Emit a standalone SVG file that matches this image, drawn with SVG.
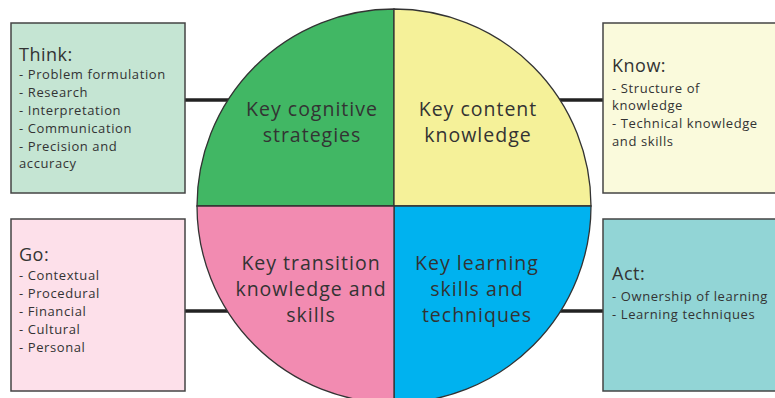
<svg xmlns="http://www.w3.org/2000/svg" width="775" height="398" viewBox="0 0 775 398">
<style>
.box{stroke:#444;stroke-width:1.5}
.q{stroke:#333;stroke-width:1.3}
.conn{stroke:#222;stroke-width:3.5}
text{font-family:"Open Sans","Noto Sans",sans-serif;fill:#333}
.t{font-size:18px;letter-spacing:0.5px}
.i{font-size:13px;letter-spacing:0.6px}
.c{font-size:19.5px;text-anchor:middle;letter-spacing:1px}
</style>
<rect width="775" height="398" fill="#fff"/>
<g id="connectors">
<line class="conn" x1="185" y1="100" x2="300" y2="100"/>
<line class="conn" x1="185" y1="311" x2="300" y2="311"/>
<line class="conn" x1="490" y1="100" x2="603" y2="100"/>
<line class="conn" x1="490" y1="311" x2="603" y2="311"/>
</g>
<g id="think">
<rect class="box" x="11" y="23" width="174" height="170" fill="#c5e5d3"/>
<text class="t" x="19" y="61">Think:</text>
<text class="i" x="19" y="79">- Problem formulation</text>
<text class="i" x="19" y="97">- Research</text>
<text class="i" x="19" y="115">- Interpretation</text>
<text class="i" x="19" y="133">- Communication</text>
<text class="i" x="19" y="151">- Precision and</text>
<text class="i" x="19" y="168">accuracy</text>
</g>
<g id="go">
<rect class="box" x="11" y="219" width="174" height="172" fill="#fde0ea"/>
<text class="t" x="19" y="261">Go:</text>
<text class="i" x="19" y="280">- Contextual</text>
<text class="i" x="19" y="298">- Procedural</text>
<text class="i" x="19" y="316">- Financial</text>
<text class="i" x="19" y="334">- Cultural</text>
<text class="i" x="19" y="352">- Personal</text>
</g>
<g id="know">
<rect class="box" x="603" y="23" width="180" height="170" fill="#fafadc"/>
<text class="t" x="612" y="72">Know:</text>
<text class="i" x="612" y="93">- Structure of</text>
<text class="i" x="612" y="110">knowledge</text>
<text class="i" x="612" y="128">- Technical knowledge</text>
<text class="i" x="612" y="146">and skills</text>
</g>
<g id="act">
<rect class="box" x="603" y="219" width="180" height="172" fill="#92d5d6"/>
<text class="t" x="612" y="280">Act:</text>
<text class="i" x="612" y="301">- Ownership of learning</text>
<text class="i" x="612" y="319">- Learning techniques</text>
</g>
<g id="cognitive">
<path class="q" d="M394,206 L197,206 A197,197 0 0 1 394,9 Z" fill="#41b764"/>
<text class="c" x="312" y="116">Key cognitive</text>
<text class="c" x="312" y="142">strategies</text>
</g>
<g id="content">
<path class="q" d="M394,206 L394,9 A197,197 0 0 1 591,206 Z" fill="#f5f199"/>
<text class="c" x="478" y="116">Key content</text>
<text class="c" x="478" y="142">knowledge</text>
</g>
<g id="learning">
<path class="q" d="M394,206 L591,206 A197,197 0 0 1 394,403 Z" fill="#00b2ef"/>
<text class="c" x="477" y="270">Key learning</text>
<text class="c" x="477" y="296">skills and</text>
<text class="c" x="477" y="322">techniques</text>
</g>
<g id="transition">
<path class="q" d="M394,206 L394,403 A197,197 0 0 1 197,206 Z" fill="#f28bb1"/>
<text class="c" x="311" y="270">Key transition</text>
<text class="c" x="311" y="296">knowledge and</text>
<text class="c" x="311" y="322">skills</text>
</g>
</svg>
